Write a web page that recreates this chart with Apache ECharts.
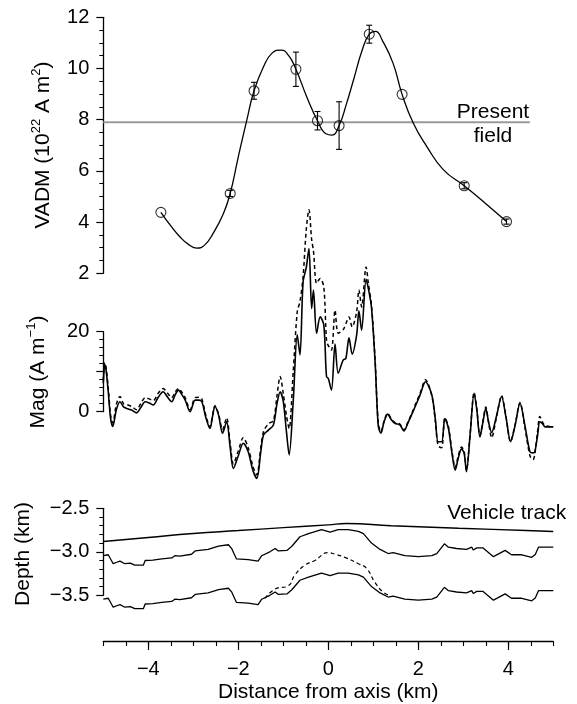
<!DOCTYPE html>
<html>
<head>
<meta charset="utf-8">
<script src="https://cdn.jsdelivr.net/npm/echarts@6/dist/echarts.min.js"></script>
<style>
  html, body { margin: 0; padding: 0; background: #fff; }
  #chart { width: 577px; height: 704px; }
</style>
</head>
<body>
<div id="chart"></div>
<script>
// ---- Palaeointensity (VADM) samples with 1-sigma errors ----
const vadmX   = [-3.72, -2.18, -1.65, -0.72, -0.24, 0.24, 0.91, 1.64, 3.02, 3.96];
const vadmY   = [4.38, 5.12, 9.13, 9.97, 7.96, 7.77, 11.34, 8.99, 5.42, 4.02];
const vadmErr = [0, 0.12, 0.33, 0.67, 0.36, 0.93, 0.35, 0, 0.12, 0.1];

// smoothed VADM trend
const trendX = [-3.72, -3.5, -3.3, -3.1, -2.92, -2.75, -2.56, -2.33, -2.18, -2.0, -1.81, -1.65, -1.44, -1.25, -1.05, -0.88, -0.72, -0.48, -0.24, -0.05, 0.08, 0.24, 0.4, 0.56, 0.75, 0.91, 1.05, 1.2, 1.44, 1.64, 1.89, 2.19, 2.56, 3.02, 3.5, 3.96];
const trendY = [4.38, 3.85, 3.43, 3.12, 2.98, 3.1, 3.56, 4.34, 5.12, 6.55, 7.99, 9.13, 10.07, 10.6, 10.72, 10.5, 9.97, 8.9, 7.96, 7.45, 7.4, 7.77, 8.6, 9.55, 10.7, 11.34, 11.45, 11.1, 10.2, 8.99, 7.86, 6.95, 6.04, 5.42, 4.72, 4.02];

const presentField = 7.9;
const presentFieldEnd = 4.48;

// ---- Magnetization profiles ----
const magX = [-5.0, -4.97, -4.94, -4.89, -4.84, -4.79, -4.71, -4.63, -4.55, -4.48, -4.37, -4.26, -4.16, -4.07, -3.98, -3.89, -3.78, -3.67, -3.57, -3.48, -3.4, -3.33, -3.25, -3.18, -3.07, -2.96, -2.88, -2.81, -2.72, -2.63, -2.57, -2.52, -2.44, -2.35, -2.26, -2.18, -2.11, -2.0, -1.89, -1.78, -1.68, -1.59, -1.5, -1.44, -1.33, -1.22, -1.14, -1.07, -1.0, -0.93, -0.87, -0.78, -0.69, -0.63, -0.56, -0.49, -0.43, -0.37, -0.33, -0.26, -0.18, -0.1, -0.04, 0.0, 0.07, 0.15, 0.22, 0.33, 0.39, 0.46, 0.53, 0.63, 0.68, 0.74, 0.84, 0.89, 0.96, 1.04, 1.11, 1.17, 1.24, 1.32, 1.4, 1.48, 1.59, 1.68, 1.77, 1.85, 1.95, 2.04, 2.16, 2.3, 2.38, 2.44, 2.52, 2.59, 2.67, 2.75, 2.82, 2.89, 2.96, 3.02, 3.07, 3.15, 3.24, 3.3, 3.37, 3.43, 3.5, 3.56, 3.63, 3.74, 3.85, 3.95, 4.05, 4.15, 4.26, 4.37, 4.48, 4.55, 4.59, 4.65, 4.7, 4.76, 4.82, 5.0];
const magSolid = [7.1, 11.7, 10.5, 5.0, -1.5, -3.7, 0.5, 2.5, 1.2, 0.8, 0.4, -0.3, 1.2, 2.5, 2.2, 1.7, 3.6, 5.0, 3.6, 2.5, 4.3, 5.4, 4.2, 2.9, 0.0, 2.9, 2.9, 2.5, -1.5, -4.2, -1.0, 1.3, -0.8, -5.4, -2.5, -9.0, -14.2, -11.0, -7.9, -10.0, -14.5, -16.7, -10.0, -5.8, -4.6, -3.3, 2.0, 5.0, 2.5, -5.0, -10.8, 2.5, 19.2, 14.2, 32.5, 36.0, 40.8, 25.8, 30.4, 19.6, 23.7, 21.7, 8.8, 8.3, 5.4, 16.9, 9.6, 12.9, 13.3, 18.5, 14.4, 19.2, 25.2, 20.4, 33.1, 30.8, 26.0, 12.5, -3.5, -5.4, -2.5, -0.6, -2.0, -2.9, -3.3, -4.8, -2.8, -0.8, 1.8, 4.2, 7.5, 4.2, -2.0, -7.5, -7.5, -1.7, -4.2, -10.5, -14.6, -11.5, -9.3, -10.5, -15.0, -6.0, 4.6, 0.5, -6.3, -3.0, 0.8, -2.5, -5.2, -1.0, 3.8, -1.5, -7.5, -3.5, 2.1, -3.5, -10.0, -10.3, -10.0, -6.0, -2.5, -3.0, -3.8, -3.8];
const magDashed = [7.8, 12.3, 11.2, 6.0, -0.7, -2.8, 1.8, 3.8, 2.0, 1.8, 1.3, 0.5, 2.2, 3.5, 3.2, 2.8, 4.6, 5.8, 4.6, 3.5, 5.0, 5.8, 4.8, 3.5, 0.5, 3.5, 3.6, 3.2, -1.0, -3.8, -0.8, 1.5, -0.5, -4.5, -1.5, -8.0, -13.0, -9.8, -6.5, -9.0, -13.5, -15.8, -9.0, -5.0, -3.0, -2.2, 4.0, 8.8, 4.5, -1.0, -4.2, 10.0, 25.0, 27.5, 33.8, 45.5, 50.5, 43.0, 40.2, 32.1, 33.3, 31.2, 17.9, 16.5, 15.4, 25.4, 19.6, 20.5, 22.0, 23.7, 21.2, 25.0, 30.4, 26.2, 36.2, 32.1, 26.5, 13.0, -3.0, -5.0, -2.3, -0.4, -1.8, -2.7, -3.1, -4.6, -2.6, -0.6, 2.2, 4.6, 8.0, 4.0, -2.5, -8.5, -9.0, -1.5, -3.8, -10.0, -14.0, -11.0, -8.8, -10.0, -14.6, -5.8, 4.8, 0.8, -6.0, -2.8, 1.2, -2.5, -6.5, -1.2, 4.0, -1.3, -7.5, -3.3, 2.3, -4.0, -11.0, -12.0, -10.5, -5.0, -1.2, -2.6, -3.5, -3.8];

// ---- Depth profiles (km) ----
const trackX = [-5.0, -4.0, -3.0, -2.0, -1.0, 0.0, 0.4, 1.4, 2.9, 4.4, 5.0];
const trackDepth = [-2.882, -2.836, -2.79, -2.756, -2.722, -2.69, -2.675, -2.7, -2.729, -2.755, -2.766];

const bathyX = [-5.0, -4.89, -4.78, -4.7, -4.63, -4.52, -4.4, -4.3, -4.11, -4.07, -3.9, -3.7, -3.48, -3.41, -3.3, -3.04, -2.96, -2.67, -2.44, -2.22, -2.15, -2.04, -1.78, -1.56, -1.48, -1.3, -1.18, -1.11, -0.92, -0.81, -0.63, -0.44, -0.15, 0.04, 0.07, 0.22, 0.44, 0.67, 0.78, 0.96, 1.15, 1.33, 1.44, 1.7, 2.0, 2.3, 2.41, 2.58, 2.67, 2.85, 3.07, 3.19, 3.22, 3.3, 3.44, 3.67, 3.93, 4.07, 4.3, 4.52, 4.6, 4.67, 5.0];
const seafloorTop = [-3.045, -3.034, -3.137, -3.12, -3.107, -3.137, -3.13, -3.154, -3.154, -3.1, -3.095, -3.082, -3.071, -3.045, -3.05, -3.028, -2.99, -2.973, -2.936, -2.919, -2.96, -3.082, -3.089, -3.107, -3.045, -3.0, -2.962, -2.99, -2.984, -2.936, -2.827, -2.791, -2.744, -2.773, -2.762, -2.744, -2.744, -2.766, -2.791, -2.9, -2.973, -3.02, -3.01, -3.045, -3.056, -3.045, -3.02, -2.908, -2.947, -2.962, -2.973, -2.947, -2.98, -2.955, -2.955, -3.056, -2.984, -3.034, -3.034, -3.064, -3.03, -2.947, -2.947];
const seafloorBase = [-3.545, -3.534, -3.637, -3.62, -3.607, -3.637, -3.63, -3.654, -3.654, -3.6, -3.595, -3.582, -3.571, -3.545, -3.55, -3.528, -3.49, -3.473, -3.436, -3.419, -3.46, -3.582, -3.589, -3.607, -3.545, -3.5, -3.462, -3.49, -3.484, -3.436, -3.327, -3.291, -3.244, -3.273, -3.262, -3.244, -3.244, -3.266, -3.291, -3.4, -3.473, -3.52, -3.51, -3.545, -3.556, -3.545, -3.52, -3.408, -3.447, -3.462, -3.473, -3.447, -3.48, -3.455, -3.455, -3.556, -3.484, -3.534, -3.534, -3.564, -3.53, -3.447, -3.447];

const dashedX = [-1.41, -1.18, -0.89, -0.74, -0.52, -0.3, 0.0, 0.15, 0.37, 0.67, 0.85, 1.04, 1.22, 1.37];
const dashedDepth = [-3.536, -3.427, -3.39, -3.264, -3.154, -3.1, -3.01, -3.028, -3.064, -3.137, -3.19, -3.355, -3.464, -3.5];

// ---- Axis ticks ----
const distanceLabels = [-4, -2, 0, 2, 4];
const distanceMinor = [-5, -4.5, -4, -3.5, -3, -2.5, -2, -1.5, -1, -0.5, 0, 0.5, 1, 1.5, 2, 2.5, 3, 3.5, 4, 4.5, 5];

const FONT = 'Liberation Sans, Arial, Helvetica, sans-serif';
const zip = (xs, ys) => xs.map((x, i) => [x, ys[i]]);
const minus = v => String(v).replace('-', '\u2212');

const chart = echarts.init(document.getElementById('chart'), null, { renderer: 'canvas' });

const gridLeft = 103.3, gridRight = 23.7;
const hiddenX = (gi) => ({
  type: 'value', gridIndex: gi, min: -5, max: 5,
  show: false
});
const leftAxis = (gi, o) => Object.assign({
  type: 'value', gridIndex: gi, position: 'left',
  axisLine: { show: true, onZero: false, lineStyle: { color: '#000', width: 1.3 } },
  axisTick: { show: true, length: 7, lineStyle: { color: '#000', width: 1.2 } },
  splitLine: { show: false },
  minorSplitLine: { show: false },
  axisLabel: { color: '#000', fontSize: 20, fontFamily: FONT, margin: 14 }
}, o);
const minorTick = (n) => ({ show: true, splitNumber: n, length: 4, lineStyle: { color: '#000', width: 1 } });

const lineSeries = (name, xi, yi, data, style, extra) => Object.assign({
  name, type: 'line', xAxisIndex: xi, yAxisIndex: yi,
  data, showSymbol: false, symbol: 'none', clip: false,
  lineStyle: Object.assign({ color: '#000', width: 1.4 }, style),
  emphasis: { disabled: true }, animation: false, z: 3
}, extra || {});

const option = {
  backgroundColor: '#fff',
  animation: false,
  grid: [
    { left: gridLeft, right: gridRight, top: 17.3, height: 256 },
    { left: gridLeft, right: gridRight, top: 331.7, height: 80 },
    { left: gridLeft, right: gridRight, top: 508.3, height: 91.7 }
  ],
  xAxis: [
    hiddenX(0),
    hiddenX(1),
    {
      type: 'value', gridIndex: 2, min: -5, max: 5, position: 'bottom', offset: 45.7,
      axisLine: { show: true, onZero: false, lineStyle: { color: '#000', width: 1.3 } },
      axisTick: { show: true, length: 9, customValues: distanceLabels, lineStyle: { color: '#000', width: 1.2 } },
      axisLabel: { show: true, customValues: distanceLabels, color: '#000', fontSize: 20, fontFamily: FONT, margin: 18,
        formatter: v => minus(v) },
      splitLine: { show: false },
      name: 'Distance from axis (km)', nameLocation: 'middle', nameGap: 41,
      nameTextStyle: { color: '#000', fontSize: 21, fontFamily: FONT }
    },
    {
      type: 'value', gridIndex: 2, min: -5, max: 5, position: 'bottom', offset: 45.7,
      axisLine: { show: false, onZero: false },
      axisTick: { show: true, length: 5, customValues: distanceMinor, lineStyle: { color: '#000', width: 1.1 } },
      axisLabel: { show: false },
      splitLine: { show: false }
    }
  ],
  yAxis: [
    leftAxis(0, { min: 2, max: 12, interval: 2, minorTick: minorTick(4) }),
    leftAxis(1, { min: 0, max: 20, interval: 10, minorTick: minorTick(5),
      axisLabel: { color: '#000', fontSize: 20, fontFamily: FONT, margin: 14, formatter: v => (v === 10 ? '' : String(v)) } }),
    leftAxis(2, { min: -3.5, max: -2.5, interval: 0.5, minorTick: minorTick(5),
      axisLabel: { color: '#000', fontSize: 20, fontFamily: FONT, margin: 14, formatter: v => minus(v.toFixed(1)) } })
  ],
  series: [
    // present-day dipole moment reference
    lineSeries('present', 0, 0, [[-5, presentField], [presentFieldEnd, presentField]],
      { color: '#9a9a9a', width: 1.8 }, { z: 1 }),
    // smoothed VADM trend
    lineSeries('trend', 0, 0, zip(trendX, trendY), { width: 1.3 }, { smooth: 0.5 }),
    // error bars
    {
      type: 'custom', xAxisIndex: 0, yAxisIndex: 0, z: 4, animation: false,
      data: vadmX.map((x, i) => [x, vadmY[i], vadmErr[i]]),
      renderItem: (params, api) => {
        const x = api.value(0), y = api.value(1), e = api.value(2);
        if (!e) return null;
        const t = api.coord([x, y + e]), b = api.coord([x, y - e]);
        const w = 3;
        const st = { stroke: '#000', lineWidth: 1.1 };
        return {
          type: 'group',
          children: [
            { type: 'line', shape: { x1: t[0], y1: t[1], x2: b[0], y2: b[1] }, style: st },
            { type: 'line', shape: { x1: t[0] - w, y1: t[1], x2: t[0] + w, y2: t[1] }, style: st },
            { type: 'line', shape: { x1: b[0] - w, y1: b[1], x2: b[0] + w, y2: b[1] }, style: st }
          ]
        };
      }
    },
    {
      type: 'scatter', xAxisIndex: 0, yAxisIndex: 0, z: 5, animation: false,
      data: zip(vadmX, vadmY), symbol: 'circle', symbolSize: 10,
      itemStyle: { color: 'rgba(0,0,0,0)', borderColor: '#000', borderWidth: 1.1 },
      emphasis: { disabled: true }
    },
    // magnetization
    lineSeries('magDashed', 1, 1, zip(magX, magDashed), { width: 1.5, type: [4, 3] }, { smooth: 0.3 }),
    lineSeries('magSolid', 1, 1, zip(magX, magSolid), { width: 1.6 }, { smooth: 0.3 }),
    // depth
    lineSeries('track', 2, 2, zip(trackX, trackDepth), { width: 1.4 }, { smooth: 0.5 }),
    lineSeries('top', 2, 2, zip(bathyX, seafloorTop), { width: 1.3 }),
    lineSeries('base', 2, 2, zip(bathyX, seafloorBase), { width: 1.3 }),
    lineSeries('baseDashed', 2, 2, zip(dashedX, dashedDepth), { width: 1.2, type: [4, 3] }, { smooth: 0.5 })
  ],
  graphic: [
    {
      type: 'text', x: 41.7, y: 145, rotation: Math.PI / 2,
      style: {
        text: '{n|VADM (10}{s|22}{n| A m}{s|2}{n|)}',
        align: 'center', verticalAlign: 'middle', fill: '#000',
        rich: {
          n: { fontSize: 21, fontFamily: FONT, fill: '#000', lineHeight: 24, verticalAlign: 'bottom' },
          s: { fontSize: 13, fontFamily: FONT, fill: '#000', lineHeight: 24, verticalAlign: 'top' }
        }
      }
    },
    {
      type: 'text', x: 36.7, y: 372, rotation: Math.PI / 2,
      style: {
        text: '{n|Mag (A m}{s|\u22121}{n|)}',
        align: 'center', verticalAlign: 'middle', fill: '#000',
        rich: {
          n: { fontSize: 21, fontFamily: FONT, fill: '#000', lineHeight: 24, verticalAlign: 'bottom' },
          s: { fontSize: 13, fontFamily: FONT, fill: '#000', lineHeight: 24, verticalAlign: 'top' }
        }
      }
    },
    {
      type: 'text', x: 23.3, y: 554, rotation: Math.PI / 2,
      style: { text: 'Depth (km)', align: 'center', verticalAlign: 'middle', fill: '#000', fontSize: 21, fontFamily: FONT }
    },
    {
      type: 'text', x: 493, y: 124,
      style: { text: 'Present\nfield', align: 'center', verticalAlign: 'middle', fill: '#000', fontSize: 21, fontFamily: FONT, lineHeight: 24 }
    },
    {
      type: 'text', x: 506.7, y: 513,
      style: { text: 'Vehicle track', align: 'center', verticalAlign: 'middle', fill: '#000', fontSize: 21, fontFamily: FONT }
    }
  ]
};

chart.setOption(option);
</script>
</body>
</html>
